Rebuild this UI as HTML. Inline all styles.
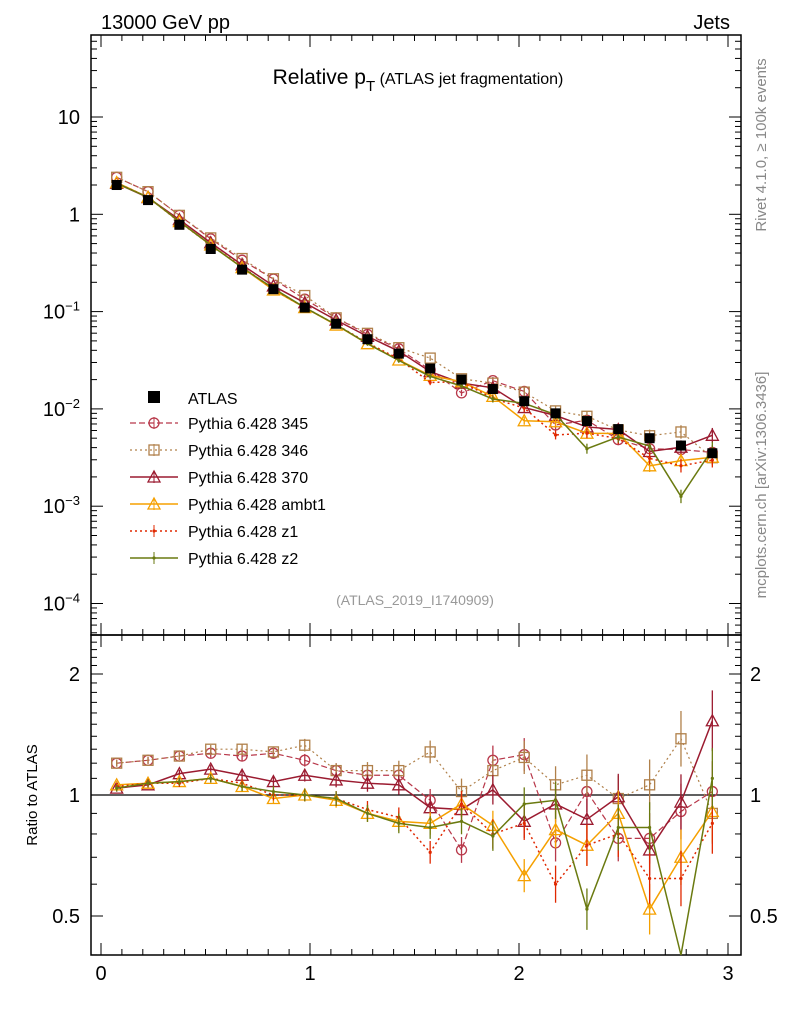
<!DOCTYPE html>
<html><head><meta charset="utf-8"><style>
body{margin:0;background:#fff;}
svg{display:block;font-family:"Liberation Sans",sans-serif;}
</style></head><body>
<svg id="c" width="786" height="1024" xmlns="http://www.w3.org/2000/svg"></svg>
<script>
const binCenters=[0.075,0.225,0.375,0.525,0.675,0.825,0.975,1.125,1.275,1.425,1.575,1.725,1.875,2.025,2.175,2.325,2.475,2.625,2.775,2.925];
const atlasValues=[2.0,1.4,0.78,0.44,0.27,0.17,0.11,0.075,0.052,0.037,0.026,0.020,0.016,0.012,0.009,0.0075,0.0062,0.005,0.0042,0.0035];
const ratio345=[1.2,1.22,1.25,1.27,1.25,1.27,1.22,1.15,1.12,1.12,0.97,0.73,1.22,1.26,0.76,1.02,0.78,0.78,0.91,1.02];
const ratio346=[1.2,1.22,1.25,1.3,1.3,1.28,1.33,1.15,1.15,1.15,1.28,1.02,1.15,1.24,1.06,1.12,0.98,1.06,1.38,0.9];
const ratio370=[1.04,1.06,1.13,1.16,1.12,1.08,1.12,1.09,1.07,1.06,0.93,0.92,1.03,0.86,0.95,0.87,0.99,0.73,0.96,1.53];
const ratioAmbt1=[1.06,1.07,1.08,1.1,1.05,0.98,1.0,0.97,0.9,0.86,0.85,0.95,0.84,0.63,0.82,0.75,0.9,0.52,0.7,0.91];
const ratioZ1=[1.05,1.07,1.07,1.1,1.07,1.0,1.0,0.98,0.92,0.88,0.72,0.95,0.8,0.85,0.6,0.75,0.8,0.62,0.62,0.85];
const ratioZ2=[1.04,1.07,1.08,1.1,1.05,1.02,1.0,0.98,0.9,0.85,0.83,0.86,0.79,0.95,0.97,0.52,0.83,0.83,0.3,1.1];
const xTicks=[0,1,2,3];
const mainTickLabels=["10","1","10<tspan dy='-8' font-size='13'>−1</tspan>","10<tspan dy='-8' font-size='13'>−2</tspan>","10<tspan dy='-8' font-size='13'>−3</tspan>","10<tspan dy='-8' font-size='13'>−4</tspan>"];
const mainTickExps=[1,0,-1,-2,-3,-4];
const ratioTicks=[2,1,0.5];

const svg=document.getElementById('c');
const NS='http://www.w3.org/2000/svg';
function el(t,a,p){const e=document.createElementNS(NS,t);for(const k in a)e.setAttribute(k,a[k]);(p||svg).appendChild(e);return e;}
const L=91,R=741,T=35,MB=635,B=955;
const xs=v=>101+v*209;
const ys=v=>117-(Math.log10(v)-1)*97.3;
const yr=v=>795-Math.log2(v)*121;

let f1=el('rect',{x:L,y:T,width:R-L,height:MB-T,fill:'none',stroke:'#000','stroke-width':1.5});

let f2=el('rect',{x:L,y:MB,width:R-L,height:B-MB,fill:'none',stroke:'#000','stroke-width':1.5});


for(let v=0;v<=3.05;v+=0.1){const x=xs(v);const major=Math.abs(v-Math.round(v))<1e-6;const len=major?12:6;
 [[T,1],[MB,-1],[MB,1],[B,-1]].forEach(([y0,d])=>el('line',{x1:x,x2:x,y1:y0,y2:y0+d*len,stroke:'#000'}));}
xTicks.forEach(v=>{const t=el('text',{x:xs(v),y:980,'font-size':20,'text-anchor':'middle'});t.textContent=v;
 });

for(let e=-5;e<=1;e++){for(let m=1;m<10;m++){const v=m*Math.pow(10,e);const y=ys(v);if(y<T||y>MB)continue;const len=m==1?12:6;
 el('line',{x1:L,x2:L+len,y1:y,y2:y,stroke:'#000'});el('line',{x1:R,x2:R-len,y1:y,y2:y,stroke:'#000'});}}
mainTickExps.forEach((e,i)=>{const t=el('text',{x:80,y:ys(Math.pow(10,e))+7,'font-size':20,'text-anchor':'end'});t.innerHTML=mainTickLabels[i];
 });

for(let v=0.4;v<=2.5;v+=0.1){const y=yr(v);if(y<MB||y>B)continue;const major=ratioTicks.some(r=>Math.abs(r-v)<1e-6);const len=major?12:6;
 el('line',{x1:L,x2:L+len,y1:y,y2:y,stroke:'#000'});el('line',{x1:R,x2:R-len,y1:y,y2:y,stroke:'#000'});}
ratioTicks.forEach(v=>{[[80,'end'],[750,'start']].forEach(([x,a])=>{const t=el('text',{x:x,y:yr(v)+7,'font-size':20,'text-anchor':a});t.textContent=v;
 });});
el('line',{x1:L,x2:R,y1:yr(1),y2:yr(1),stroke:'#000','stroke-width':1.2});

const series=[
 {name:'Pythia 6.428 345',r:ratio345,c:'#b8384a',dash:'6,3',m:'circle',w:1.2},
 {name:'Pythia 6.428 346',r:ratio346,c:'#b0804a',dash:'2,3',m:'square',w:1.2},
 {name:'Pythia 6.428 370',r:ratio370,c:'#9b1b30',dash:'',m:'tri',w:1.5},
 {name:'Pythia 6.428 ambt1',r:ratioAmbt1,c:'#f5a000',dash:'',m:'tri',w:1.5},
 {name:'Pythia 6.428 z1',r:ratioZ1,c:'#e02800',dash:'2,3',m:'dot',w:1.5},
 {name:'Pythia 6.428 z2',r:ratioZ2,c:'#6a7a10',dash:'',m:'dot',w:1.5}];
function marker(g,m,x,y,c){
 if(m=='circle')el('circle',{cx:x,cy:y,r:5,fill:'none',stroke:c,'stroke-width':1.3},g);
 else if(m=='square')el('rect',{x:x-5,y:y-5,width:10,height:10,fill:'none',stroke:c,'stroke-width':1.3},g);
 else if(m=='tri')el('polygon',{points:`${x},${y-6} ${x-6},${y+5} ${x+6},${y+5}`,fill:'none',stroke:c,'stroke-width':1.3},g);
 else el('circle',{cx:x,cy:y,r:1.6,fill:c},g);}
function clipR(y){return Math.max(MB,Math.min(B,y));}
series.forEach((s,si)=>{
 const g=el('g',{});
 const mp=binCenters.map((x,i)=>[xs(x),ys(atlasValues[i]*s.r[i])]);
 el('polyline',{points:mp.map(p=>p.join(',')).join(' '),fill:'none',stroke:s.c,'stroke-width':s.w,'stroke-dasharray':s.dash},g);
 const rp=binCenters.map((x,i)=>[xs(x),clipR(yr(s.r[i]))]);
 el('polyline',{points:rp.map(p=>p.join(',')).join(' '),fill:'none',stroke:s.c,'stroke-width':s.w,'stroke-dasharray':s.dash},g);
 binCenters.forEach((x,i)=>{const err=0.02+0.17*(i/19)*(i/19);const r=s.r[i];
  el('line',{x1:xs(x),x2:xs(x),y1:clipR(yr(r*(1+err))),y2:clipR(yr(r/(1+err))),stroke:s.c,'stroke-width':1.3},g);
  el('line',{x1:xs(x),x2:xs(x),y1:ys(atlasValues[i]*r*(1+err)),y2:ys(atlasValues[i]*r/(1+err)),stroke:s.c,'stroke-width':1.3},g);
  marker(g,s.m,mp[i][0],mp[i][1],s.c);
  if(rp[i][1]>MB&&rp[i][1]<B)marker(g,s.m,rp[i][0],rp[i][1],s.c);});
});
const ga=el('g',{});
binCenters.forEach((x,i)=>{el('rect',{x:xs(x)-5,y:ys(atlasValues[i])-5,width:10,height:10,fill:'#000'},ga);});

const lg=el('g',{});
el('rect',{x:148,y:391,width:12,height:12,fill:'#000'},lg);
let t0=el('text',{x:188,y:404,'font-size':16},lg);t0.textContent='ATLAS';
series.forEach((s,i)=>{const y=423+i*27;
 el('line',{x1:130,x2:178,y1:y,y2:y,stroke:s.c,'stroke-width':s.w,'stroke-dasharray':s.dash},lg);
 el('line',{x1:154,x2:154,y1:y-6,y2:y+6,stroke:s.c},lg);
 marker(lg,s.m,154,y,s.c);
 const t=el('text',{x:188,y:y+6,'font-size':16},lg);t.textContent=s.name;
 });

function txt(x,y,s,attrs,name){const t=el('text',Object.assign({x:x,y:y},attrs));t.innerHTML=s;return t;}
txt(101,29,'13000 GeV pp',{'font-size':20},'energy-label');
txt(730,29,'Jets',{'font-size':20,'text-anchor':'end'},'process-label');
txt(418,84,'Relative p<tspan dy="7" font-size="15">T</tspan><tspan dy="-7" font-size="16"> (ATLAS jet fragmentation)</tspan>',{'font-size':21,'text-anchor':'middle'},'plot-title');
txt(415,605,'(ATLAS_2019_I1740909)',{'font-size':14,'text-anchor':'middle',fill:'#999'},'analysis-id');
txt(0,0,'Rivet 4.1.0, ≥ 100k events',{'font-size':15,fill:'#888','text-anchor':'middle',transform:'translate(766,145) rotate(-90)'},'rivet-label');
txt(0,0,'mcplots.cern.ch [arXiv:1306.3436]',{'font-size':15,fill:'#888','text-anchor':'middle',transform:'translate(766,485) rotate(-90)'},'mcplots-label');
txt(0,0,'Ratio to ATLAS',{'font-size':15,'text-anchor':'middle',transform:'translate(37,795) rotate(-90)'},'ratio-y-title');
</script>
</body></html>
